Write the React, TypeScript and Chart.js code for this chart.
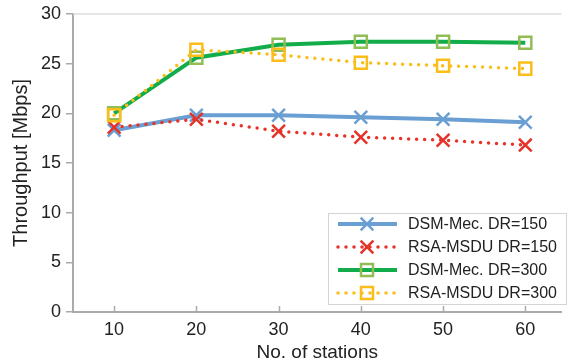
import React, { useEffect, useRef } from "react";
import { Chart, registerables } from "chart.js";

Chart.register(...registerables);

const stations = [10, 20, 30, 40, 50, 60];
const dsm150 = [18.3, 19.8, 19.8, 19.6, 19.4, 19.1];
const rsa150 = [18.6, 19.4, 18.2, 17.6, 17.3, 16.8];
const dsm300 = [20.0, 25.6, 26.9, 27.2, 27.2, 27.1];
const rsa300 = [19.8, 26.4, 25.9, 25.1, 24.8, 24.5];
const labels = ["DSM-Mec. DR=150", "RSA-MSDU DR=150", "DSM-Mec. DR=300", "RSA-MSDU DR=300"];
const yTicks = [0, 5, 10, 15, 20, 25, 30];

const FONT = "'Liberation Sans', Arial, Helvetica, sans-serif";

const styles = [
  { line: "#6a9fd3", marker: "#6a9fd3", dash: [] as number[], width: 4, point: "crossRot", r: 9, pw: 2.5 },
  { line: "#e53329", marker: "#e53329", dash: [0, 8], width: 3.5, point: "crossRot", r: 9, pw: 2.5 },
  { line: "#12ad4a", marker: "#92bd55", dash: [] as number[], width: 4, point: "rect", r: 8.5, pw: 2.5 },
  { line: "#fbbd19", marker: "#fbbd19", dash: [0, 8], width: 3.5, point: "rect", r: 8.5, pw: 2.5 },
];

const series = [dsm150, rsa150, dsm300, rsa300];

function drawMarker(ctx: CanvasRenderingContext2D, kind: string, x: number, y: number, r: number) {
  ctx.beginPath();
  if (kind === "rect") {
    const s = Math.SQRT1_2 * r;
    ctx.rect(x - s, y - s, 2 * s, 2 * s);
  } else {
    const o = Math.SQRT1_2 * r;
    ctx.moveTo(x - o, y - o);
    ctx.lineTo(x + o, y + o);
    ctx.moveTo(x + o, y - o);
    ctx.lineTo(x - o, y + o);
  }
  ctx.stroke();
}

const decorPlugin = {
  id: "decor",
  afterDraw(chart: any) {
    const ctx: CanvasRenderingContext2D = chart.ctx;
    const area = chart.chartArea;
    const xs = chart.scales.x;
    ctx.save();
    ctx.strokeStyle = "#dcdcdc";
    ctx.lineWidth = 1.5;
    ctx.beginPath();
    ctx.moveTo(area.left, area.top);
    ctx.lineTo(area.right, area.top);
    ctx.stroke();
    ctx.strokeStyle = "#aaaaaa";
    ctx.lineWidth = 1.5;
    stations.forEach((s) => {
      const px = Math.round(xs.getPixelForValue(s)) + 0.5;
      ctx.beginPath();
      ctx.moveTo(px, area.bottom);
      ctx.lineTo(px, area.bottom - 6);
      ctx.stroke();
    });
    const bx = 328, by = 213, bw = 238, bh = 91;
    ctx.fillStyle = "#ffffff";
    ctx.fillRect(bx, by, bw, bh);
    ctx.strokeStyle = "#d4d4d4";
    ctx.lineWidth = 1;
    ctx.strokeRect(bx + 0.5, by + 0.5, bw, bh);
    const rows = [224, 247, 270, 293];
    labels.forEach((lab, i) => {
      const st = styles[i];
      const y = rows[i];
      ctx.save();
      ctx.strokeStyle = st.line;
      ctx.lineWidth = st.width;
      ctx.lineCap = st.dash.length ? "round" : "butt";
      ctx.setLineDash(st.dash);
      ctx.beginPath();
      ctx.moveTo(338, y);
      ctx.lineTo(397, y);
      ctx.stroke();
      ctx.setLineDash([]);
      ctx.lineCap = "butt";
      ctx.strokeStyle = st.marker;
      ctx.lineWidth = st.pw;
      drawMarker(ctx, st.point, 367, y, st.r);
      ctx.restore();
      ctx.fillStyle = "#222222";
      ctx.font = `16px ${FONT}`;
      ctx.textBaseline = "middle";
      ctx.textAlign = "left";
      ctx.fillText(lab, 408, y + 1);
    });
    ctx.restore();
  },
};

export default function App() {
  const ref = useRef<HTMLCanvasElement | null>(null);
  useEffect(() => {
    document.body.style.margin = "0";
    const canvas = ref.current!;
    const chart = new Chart(canvas, {
      type: "line",
      data: {
        datasets: series.map((vals, i) => ({
          label: labels[i],
          data: stations.map((s, j) => ({ x: s, y: vals[j] })),
          borderColor: styles[i].line,
          borderWidth: styles[i].width,
          borderDash: styles[i].dash,
          borderCapStyle: styles[i].dash.length ? "round" : "butt",
          pointStyle: styles[i].point,
          pointRadius: styles[i].r,
          pointBorderWidth: styles[i].pw,
          pointBorderColor: styles[i].marker,
          pointBackgroundColor: "rgba(0,0,0,0)",
          tension: 0,
          fill: false,
          order: 3 - i,
        })) as any,
      },
      options: {
        animation: false,
        responsive: false,
        maintainAspectRatio: false,
        layout: { padding: { top: 13, right: 1, left: 0, bottom: 0 } },
        plugins: { legend: { display: false }, tooltip: { enabled: false } },
        scales: {
          x: {
            type: "linear",
            min: 5,
            max: 64.4,
            afterBuildTicks: (axis: any) => {
              axis.ticks = stations.map((v) => ({ value: v }));
            },
            afterFit: (axis: any) => {
              axis.height = 52;
            },
            grid: { display: true, drawOnChartArea: false, drawTicks: false, color: "#aaaaaa" },
            border: { display: true, color: "#aaaaaa", width: 2 },
            ticks: {
              font: { family: FONT, size: 18, lineHeight: 1 },
              color: "#222222",
              padding: 9,
              maxRotation: 0,
              callback: (v: any) => String(v),
            },
            title: {
              display: true,
              text: "No. of stations",
              font: { family: FONT, size: 19 },
              color: "#222222",
              padding: { top: 0, bottom: 0 },
            },
          },
          y: {
            min: 0,
            max: 30,
            afterBuildTicks: (axis: any) => {
              axis.ticks = yTicks.map((v) => ({ value: v }));
            },
            afterFit: (axis: any) => {
              axis.width = 73;
            },
            grid: { display: true, drawOnChartArea: false, drawTicks: true, tickLength: 7, color: "#aaaaaa", lineWidth: 1.5 },
            border: { display: true, color: "#aaaaaa", width: 2 },
            ticks: {
              font: { family: FONT, size: 18, lineHeight: 1 },
              color: "#222222",
              padding: 5,
            },
            title: {
              display: true,
              text: "Throughput [Mbps]",
              font: { family: FONT, size: 20 },
              color: "#222222",
              padding: { top: 9, bottom: 0 },
            },
          },
        },
      } as any,
      plugins: [decorPlugin],
    });
    return () => chart.destroy();
  }, []);
  return <canvas ref={ref} width={573} height={364} style={{ display: "block" }} />;
}
